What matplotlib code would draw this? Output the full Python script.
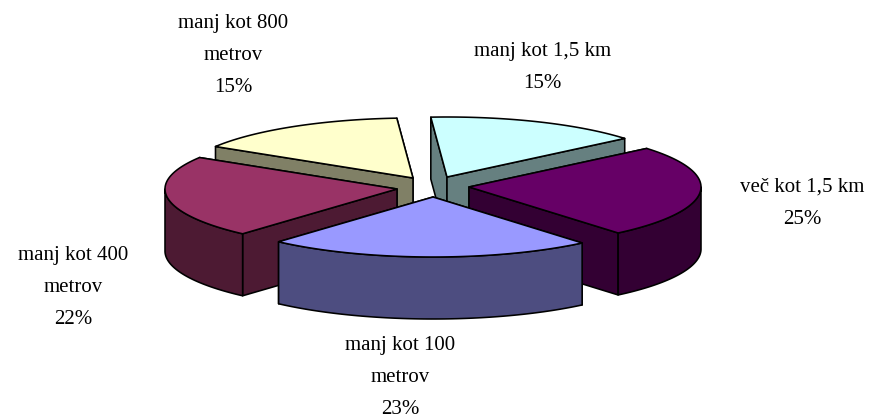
import numpy as np
import matplotlib
matplotlib.use("Agg")
import matplotlib.pyplot as plt
from matplotlib.patches import Polygon

labels = ["manj kot 1,5 km", "več kot 1,5 km", "manj kot 100\nmetrov", "manj kot 400\nmetrov", "manj kot 800\nmetrov"]
values = [15.0, 25.0, 22.7, 22.2, 15.1]

top_colors = ["#CCFFFF", "#660066", "#9999FF", "#993366", "#FFFFCC"]
side_colors = ["#668080", "#330033", "#4D4D80", "#4D1A33", "#808066"]

# where each exploded slice has its tip, in pixels
tips = [(447, 177), (469, 187), (433, 197), (397, 189), (413, 178)]
# label centre x and baseline of the first line
label_pos = [(542.5, 56), (802, 192), (400, 350), (73.5, 260), (233.5, 28)]
draw_order = [4, 0, 3, 1, 2]  # back to front

rx, ry, depth = 232, 60, 62
start_angle = -4
line_step = 32

plt.rcParams["font.family"] = ["Liberation Serif", "DejaVu Serif"]

fig = plt.figure(figsize=(8.75, 4.18), dpi=100)
ax = fig.add_axes([0, 0, 1, 1])
ax.set_xlim(0, 875)
ax.set_ylim(418, 0)
ax.axis("off")


def rim(tip, a, b):
    t = np.radians(np.linspace(a, b, 80))
    return np.column_stack([tip[0] + rx * np.sin(t), tip[1] - ry * np.cos(t)])


def shape(pts, color):
    ax.add_patch(Polygon(pts, closed=True, facecolor=color, edgecolor="black",
                         linewidth=1.15, joinstyle="round"))


ends = start_angle + np.cumsum(values) * 3.6
starts = ends - np.array(values) * 3.6

for i in draw_order:
    tip = np.array(tips[i], dtype=float)
    a, b = starts[i], ends[i]
    down = np.array([0, depth])

    # cut faces, the further one first
    faces = []
    for ang in (a, b):
        p = rim(tip, ang, ang)[0]
        faces.append(np.array([tip, p, p + down, tip + down]))
    faces.sort(key=lambda f: f[:, 1].mean())
    for f in faces:
        shape(f, side_colors[i])

    # outer wall, only the front half of the rim shows
    lo, hi = max(a, 90), min(b, 270)
    if lo < hi:
        arc = rim(tip, lo, hi)
        shape(np.vstack([arc, arc[::-1] + down]), side_colors[i])

    shape(np.vstack([tip, rim(tip, a, b)]), top_colors[i])

for name, val, (x, y) in zip(labels, values, label_pos):
    lines = name.split("\n") + [f"{val:.0f}%"]
    for k, line in enumerate(lines):
        ax.text(x, y + k * line_step, line, ha="center", va="baseline",
                fontsize=15, color="black")

fig.savefig("out.png", dpi=100)
